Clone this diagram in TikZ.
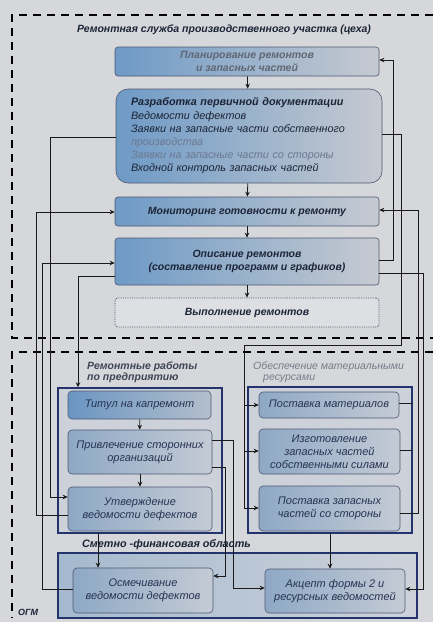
\documentclass[tikz,border=0pt]{standalone}
\usepackage{fontspec}
\setmainfont{Liberation Sans}
\usetikzlibrary{arrows.meta}
\definecolor{bg}{HTML}{D6D7DB}
\definecolor{tbL}{HTML}{6E9AC6}
\definecolor{tbR}{HTML}{C6CAD1}
\definecolor{lbL}{HTML}{8EA8C5}
\definecolor{lbR}{HTML}{C4CBD5}
\definecolor{tiL}{HTML}{6A95C2}
\definecolor{tiR}{HTML}{B4BFCD}
\definecolor{boxline}{HTML}{4E5872}
\definecolor{navy}{HTML}{23336C}
\definecolor{txt}{HTML}{1C2437}
\definecolor{ltxt}{HTML}{263352}
\definecolor{fade}{HTML}{6B7890}
\definecolor{ln}{HTML}{1A1A1A}
\definecolor{grpfill}{HTML}{CDD2DA}
\definecolor{grpL}{HTML}{A5BACF}
\begin{document}
\begin{tikzpicture}[x=1pt,y=-1pt,
  topbox/.style={draw=boxline, line width=0.6pt, rounded corners=3pt, left color=tbL, right color=tbR,
    font=\fontsize{10.5}{12.5}\selectfont\bfseries\itshape, text=txt, align=center, inner sep=0pt},
  lowbox/.style={draw=boxline, line width=0.6pt, rounded corners=4pt, left color=lbL, right color=lbR,
    font=\fontsize{11}{12.8}\selectfont\itshape, text=ltxt, align=center, inner sep=0pt},
  grp/.style={draw=navy, line width=1.4pt, inner sep=0pt},
  cn/.style={line width=0.8pt, draw=ln},
  arr/.style={cn, -{Stealth[length=5pt,width=4.5pt]}},
  dashreg/.style={draw=black, line width=1.4pt, dash pattern=on 8pt off 6pt},
  lbl/.style={font=\fontsize{10.5}{11}\selectfont\bfseries\itshape, text=txt, inner sep=0pt}
]
\useasboundingbox (0,0) rectangle (433,622);
\fill[bg] (0,0) rectangle (433,622);

% dashed regions
\draw[dashreg] (433,15) -- (12,15) -- (12,338) -- (433,338);
\draw[dashreg] (433,352) -- (12,352) -- (12,618);
\node[lbl, anchor=west, font=\fontsize{9}{11}\selectfont\bfseries\itshape] (ogm) at (18,612) {ОГМ};
\node[lbl] (title) at (224,30) {Ремонтная служба производственного участка (цеха)};

% top boxes
\node[topbox, minimum width=264pt, minimum height=29pt, text=txt!70] (b1) at (247,61.5) {Планирование ремонтов\\и запасных частей};
\node[topbox, rounded corners=12pt, minimum width=266pt, minimum height=94pt, text width=236pt, align=left,
  font=\fontsize{10.8}{13.2}\selectfont\itshape] (b2) at (249,136)
  {{\bfseries Разработка первичной документации}\\Ведомости дефектов\\Заявки на запасные части собственного\\\textcolor{fade}{производства}\\\textcolor{fade}{Заявки на запасные части со стороны}\\Входной контроль запасных частей};
\node[topbox, minimum width=264pt, minimum height=29pt] (b3) at (247,211.5) {Мониторинг готовности к ремонту};
\node[topbox, minimum width=264pt, minimum height=47pt] (b4) at (247,261.5) {Описание ремонтов\\(составление программ и графиков)};
\node[draw=boxline, densely dotted, line width=0.8pt, rounded corners=3pt, fill=bg!80!white, minimum width=264pt, minimum height=29pt,
  font=\fontsize{10.5}{12.5}\selectfont\bfseries\itshape, text=txt, inner sep=0pt] (b5) at (247,312.5) {Выполнение ремонтов};

\draw[arr] (b1) -- (b2);
\draw[arr] (b2) -- (b3);
\draw[arr] (b3) -- (b4);
\draw[arr] (b4) -- (b5);

% group frames
\node[grp, fill=grpfill, minimum width=164pt, minimum height=145pt] (lg) at (140,460.5) {};
\node[grp, fill=grpfill, minimum width=164pt, minimum height=146pt] (rg) at (330,460) {};
\node[grp, left color=grpL, right color=grpfill, minimum width=359pt, minimum height=65pt] (sg) at (237.5,585.5) {};

\node[lbl, anchor=north west, align=left, text=txt!85] (lgt) at (87,362) {Ремонтные работы\\по предприятию};
\node[lbl, anchor=north west, align=left, text=txt!60, font=\fontsize{10.5}{11}\selectfont\itshape] (rgt) at (253,362) {Обеспечение материальными\\\hspace*{10pt}ресурсами};
\node[lbl, anchor=west, font=\fontsize{10.8}{12}\selectfont\bfseries\itshape] (sgt) at (82,545) {Сметно -финансовая область};

% lower boxes
\node[lowbox, left color=tiL, right color=tiR, minimum width=143pt, minimum height=28pt] (t1) at (139.5,405) {Титул на капремонт};
\node[lowbox, minimum width=144pt, minimum height=44pt] (t2) at (140,452) {Привлечение сторонних\\организаций};
\node[lowbox, minimum width=144pt, minimum height=44pt] (t3) at (140,509) {Утверждение\\ведомости дефектов};
\node[lowbox, minimum width=140pt, minimum height=26pt] (r1) at (329,405) {Поставка материалов};
\node[lowbox, minimum width=141pt, minimum height=45pt] (r2) at (329.5,451.5) {Изготовление\\запасных частей\\собственными силами};
\node[lowbox, minimum width=141pt, minimum height=45pt] (r3) at (329.5,508.5) {Поставка запасных\\частей со стороны};
\node[lowbox, minimum width=140pt, minimum height=45pt] (s1) at (143,590.5) {Осмечивание\\ведомости дефектов};
\node[lowbox, minimum width=140pt, minimum height=44pt] (s2) at (335,591) {Акцепт формы 2 и\\ресурсных ведомостей};

\draw[arr] (t1) -- (t2);
\draw[arr] (t2) -- (t3);

% right side connectors
\draw[arr] (b4.east |- 0,260) -- (393,260) -- (393,60) -- (b1.east |- 0,60);
\coordinate (j1) at (244,405);
\coordinate (j2) at (244,451);
\draw[arr] (b2.east |- 0,134) -- (401,134) -- (401,345) -- (244,345) -- (244,508) -- (r3.west |- 0,508);
\draw[arr] (j1) -- (r1.west |- j1);
\draw[arr] (j2) -- (r2.west |- j2);
\draw[arr] (r3.east |- 0,513) -- (418,513) -- (418,210) -- (b3.east |- 0,210);
\draw[cn] (r1.east |- 0,403) -- (rg.east |- 0,403);
\draw[cn] (r2.east |- 0,450) -- (rg.east |- 0,450);
\draw[arr] (b4.east |- 0,273) -- (423,273) -- (423,589) -- (s2.east |- 0,589);

% left side connectors
\draw[arr] (b2.west |- 0,137) -- (50,137) -- (50,497) -- (t3.west |- 0,497);
\draw[arr] (t3.west |- 0,515) -- (36,515) -- (36,212) -- (b3.west |- 0,212);
\draw[arr] (s1.west |- 0,589) -- (42,589) -- (42,263) -- (b4.west |- 0,263);
\draw[arr] (b4.west |- 0,276) -- (78,276) -- (lg.north -| 78,0);

% middle connectors
\draw[arr] (t2.east |- 0,440) -- (233,440) -- (233,588) -- (s2.west |- 0,588);
\draw[arr] (t2.east |- 0,467) -- (225,467) -- (225,576) -- (s1.east |- 0,576);
\draw[arr] (lg.south -| 98,0) -- (s1.north -| 98,0);
\draw[arr] (rg.south -| 330,0) -- (s2.north -| 330,0);
\end{tikzpicture}
\end{document}
